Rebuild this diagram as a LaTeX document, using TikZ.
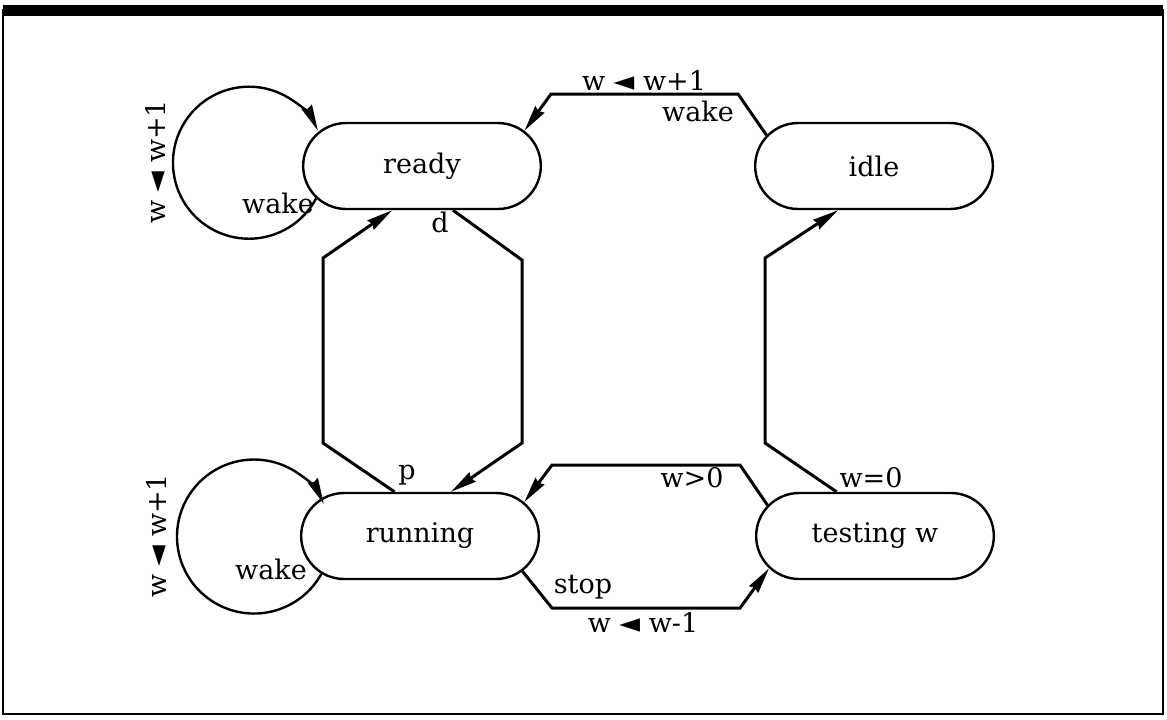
\documentclass[tikz,border=0pt]{standalone}
\usepackage{fontspec}
\setmainfont{DejaVu Serif}
\newfontfamily\symfont{DejaVu Sans}
\usetikzlibrary{shapes.misc,arrows.meta}
\newcommand{\lar}{{\symfont ◄}}

\begin{document}
\begin{tikzpicture}[x=0.5pt,y=-0.5pt,>={Stealth[length=13pt,width=5.5pt,inset=1pt]},
    state node/.style={rounded rectangle,draw,line width=1.2pt,minimum width=125.5pt,minimum height=43pt,font=\fontsize{13.5}{16}\selectfont},
    tag/.style={font=\fontsize{13.5}{16}\selectfont,inner sep=1pt},
    trans/.style={->,line width=1.5pt},
    loop line/.style={->,line width=1.2pt}]
                    \useasboundingbox (0,0) rectangle (1167,719);
                    \draw[line width=1pt] (3,10) rectangle (1163,714);
                    \draw[line width=5.5pt] (3,10) -- (1163,10);

                    \node[state node] (ready) at (422,166){ready};
                    \node[state node] (idle) at (874,166){idle};
                    \node[state node] (running) at (420,536){running};
                    \node[state node] (testing) at (875,536){testing w};

                    \draw[loop line] (ready.197) arc[start angle=-28,end angle=-335,radius=38pt];
                    \draw[loop line] (running.201) arc[start angle=-29,end angle=-335,radius=38.5pt];

                    \draw[trans] (idle.164) -- (738,94) -- (551,94) -- (ready.19);
                    \draw[trans] (running.120) -- (323,443) -- (323,258) -- (ready.236);
                    \draw[trans] (ready.305) -- (522,260) -- (522,443) -- (running.55);
                    \draw[trans] (testing.164) -- (740,465) -- (552,465) -- (running.18);
                    \draw[trans] (running.341) -- (552,608) -- (740,608) -- (testing.197);
                    \draw[trans] (testing.131) -- (765,443) -- (765,258) -- (idle.231);

                    \node[tag,rotate=90] (rinc) at (155,162){w \lar{} w+1};
                    \node[tag] (rwake) at (278,203){wake};
                    \node[tag,rotate=90] (uinc) at (156,536){w \lar{} w+1};
                    \node[tag] (uwake) at (271,569){wake};
                    \node[tag] (iinc) at (644,80){w \lar{} w+1};
                    \node[tag] (iwake) at (698,111){wake};
                    \node[tag] (d) at (440,222){d};
                    \node[tag] (p) at (407,475){p};
                    \node[tag] (pos) at (692,478){w>0};
                    \node[tag] (zero) at (871,478){w=0};
                    \node[tag] (stop) at (583,587){stop};
                    \node[tag] (dec) at (643,622){w \lar{} w-1};
                \end{tikzpicture}
\end{document}
